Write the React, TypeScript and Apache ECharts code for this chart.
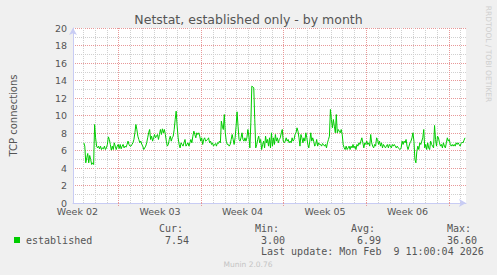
import React, { useEffect, useRef } from "react";
import * as echarts from "echarts";

const TITLE = "Netstat, established only - by month";
const Y_NAME = "TCP connections";
const SIDE_TEXT = "RRDTOOL / TOBI OETIKER";
const FOOTER = "Munin 2.0.76";

// time axis in days since Mon 5 Jan 2026 (start of Week 02)
const X_MIN = 3.125;
const X_MAX = 36.4583;
const WEEK_LABELS = ["Week 02", "Week 03", "Week 04", "Week 05", "Week 06"];
const WEEK_LABEL_DAYS = [3.5, 10.5, 17.5, 24.5, 31.5];
const WEEK_START_DAYS = [7, 14, 21, 28, 35];
const DAY_LINES = [4, 5, 6, 8, 9, 10, 11, 12, 13, 15, 16, 17, 18, 19, 20, 22, 23, 24, 25, 26, 27, 29, 30, 31, 32, 33, 34, 36];

const Y_MIN = 0;
const Y_MAX = 20;
const Y_STEP = 2;

// samples every 2 hours
const SAMPLE_STEP_DAYS = 2 / 24;

const CHUNK_A_START = 4.0417;
const CHUNK_A = [
  6.88, 6.5, 4.59, 5.16, 5.66, 4.59, 5.43, 4.97, 4.4, 4.59,
  4.4, 8.97, 7.45, 6.5, 6.3, 6.5, 6.19, 6.5, 6.11, 6.3,
  6.19, 6.5, 6.11, 6.3, 6.69, 7.56, 7.26, 6.69, 6.04, 6.5,
  6.11, 6.88, 6.5, 6.11, 6.5, 6.69, 6.23, 6.69, 6.19, 6.5,
  6.69, 6.3, 6.5, 6.38, 6.69, 7.07, 6.69, 6.5, 6.5, 6.69,
  6.88, 7.26, 8.02, 8.97, 8.4, 7.64, 7.26, 6.88, 7.07, 6.69,
  6.5, 6.11, 6.3, 6.5, 6.88, 7.45, 8.02, 8.4, 7.26, 7.64,
  7.07, 7.45, 7.83, 7.45, 7.64, 7.83, 7.26, 7.83, 8.4, 7.83,
  8.48, 8.02, 8.4, 7.83, 7.07, 6.5, 6.69, 7.26, 7.64, 7.07,
  7.45, 7.64, 8.4, 9.54, 10.5, 8.78, 7.45, 6.69, 6.3, 6.88,
  6.69, 6.5, 6.88, 7.26, 6.5, 6.69, 6.88, 6.5, 6.88, 7.26,
  6.88, 7.64, 8.21, 7.83, 7.45, 8.02, 7.83, 8.02, 7.64, 7.07,
  7.45, 6.69, 7.26, 7.45, 7.07,
];

const CHUNK_B_START = 14.5417;
const CHUNK_B = [
  7.26, 7.45, 6.88, 7.07, 6.69, 6.88, 6.5, 6.69, 6.8, 6.5,
  6.88, 6.8, 7.07, 6.88, 9.35, 8.78, 8.4, 10.11, 8.02, 7.07,
  6.69, 6.69, 6.5, 6.69, 7.26, 7.83, 7.26, 6.69, 7.45, 8.78,
  10.42, 8.78, 7.26, 7.07, 7.45, 8.02, 7.26, 7.07, 7.45, 7.07,
  7.45, 8.4, 7.64, 6.3, 9.16, 13.35, 13.28, 13.16, 9.54, 6.3,
  6.69, 7.26, 7.64, 6.88, 7.26, 6.11, 6.69, 7.07, 6.3, 7.64,
  6.88, 7.26, 6.5, 7.45, 6.3, 8.02, 6.5, 7.45, 6.69, 7.83,
  7.07, 7.45, 6.88, 7.26, 7.45, 8.02, 8.4, 7.07, 6.88, 7.07,
  7.45, 7.07, 7.26, 6.88, 7.07, 6.88, 7.45, 7.07, 7.26, 7.83,
  8.02, 8.59, 8.21, 7.45, 6.5, 7.83, 7.45, 6.88, 7.45, 7.07,
  8.02, 7.45, 6.69, 6.3, 7.07, 8.02, 7.07, 7.45, 7.07, 6.5,
  6.69, 7.26, 6.5, 6.88, 6.69, 6.69, 6.5, 6.8, 6.69, 6.5,
  6.69, 6.3, 6.88, 7.26, 7.64, 10.69, 9.54, 8.59, 9.54, 8.78,
  8.02,
];

const CHUNK_C_START = 25.4583;
const CHUNK_C = [
  10.11, 8.02, 8.4, 8.21, 8.02, 8.4, 7.83, 6.69, 6.3, 6.11,
  6.5, 6.11, 6.3, 6.5, 6.11, 6.5, 6.3, 6.69, 6.3, 6.5,
  6.11, 6.69, 6.5, 6.88, 6.69, 7.07, 7.45, 6.88, 6.3, 6.88,
  6.69, 7.07, 6.69, 6.88, 6.5, 7.83, 6.88, 6.5, 6.3, 6.69,
  6.5, 7.45, 7.26, 6.69, 7.07, 6.5, 6.88, 6.3, 6.69, 6.5,
  6.3, 6.5, 6.69, 6.3, 6.69, 6.5, 6.3, 6.69, 6.5, 6.69,
  6.5, 6.3, 6.5, 6.3, 6.19, 6.11, 6.3, 7.07, 6.69, 7.07,
  6.88, 7.26, 6.5, 6.11, 6.5, 6.88, 7.07, 7.45, 8.02, 7.07,
  4.97, 4.59, 5.92, 6.5, 6.11, 6.88, 6.69, 7.07, 7.45, 8.4,
  6.3, 6.69, 6.11, 6.88, 6.3, 6.11, 7.07, 6.69, 6.5, 6.3,
  8.86, 7.26, 6.5, 7.64, 7.45, 6.88, 6.5, 6.69, 6.3, 6.88,
  6.5, 6.3, 6.88, 7.45, 7.07, 7.26, 6.69, 6.5, 6.69, 6.5,
  6.69, 6.5, 6.88, 6.69, 6.88, 6.69, 6.5, 6.8, 6.95, 6.88,
  7.18, 7.45,
];

const SERIES_NAME = "established";
const STAT_HEADERS = ["Cur:", "Min:", "Avg:", "Max:"];
const STAT_VALUES = ["7.54", "3.00", "6.99", "36.60"];
const LAST_UPDATE = "Last update: Mon Feb  9 11:00:04 2026";

const GREEN = "#00cc00";
const TEXT = "#555555";
const MAJOR = "#e89898";
const MINOR = "#d0d0d0";
const AXIS = "#c8ccf4";
const SANS = "'DejaVu Sans', sans-serif";
const MONO = "'DejaVu Sans Mono', monospace";

function chunk(start: number, vals: number[]) {
  return vals.map((v, i) => [start + i * SAMPLE_STEP_DAYS, v]);
}

export default function App() {
  const ref = useRef<HTMLDivElement>(null);
  useEffect(() => {
    if (!ref.current) return;
    const chart = echarts.init(ref.current, undefined, { renderer: "svg" });
    const data = [
      ...chunk(CHUNK_A_START, CHUNK_A),
      ...chunk(CHUNK_B_START, CHUNK_B),
      ...chunk(CHUNK_C_START, CHUNK_C),
    ];
    const statX = [159, 255, 351, 447];
    const valX = [165, 261, 357, 447];
    const graphics: any[] = [
      {
        type: "text", x: 248.5, y: 19,
        style: { text: TITLE, fill: TEXT, fontSize: 12.5, fontFamily: SANS, align: "center", verticalAlign: "middle" },
      },
      {
        type: "text", x: 488.5, y: 54, rotation: -Math.PI / 2,
        style: { text: SIDE_TEXT, fill: "#cfcfcf", fontSize: 7.5, fontFamily: SANS, align: "center", verticalAlign: "middle" },
      },
      { type: "rect", shape: { x: 14, y: 237, width: 6, height: 6 }, style: { fill: GREEN } },
      {
        type: "text", x: 26, y: 240,
        style: { text: SERIES_NAME, fill: TEXT, fontSize: 10, fontFamily: MONO, align: "left", verticalAlign: "middle" },
      },
      {
        type: "text", x: 261, y: 251.5,
        style: { text: LAST_UPDATE, fill: TEXT, fontSize: 10, fontFamily: MONO, align: "left", verticalAlign: "middle" },
      },
      {
        type: "text", x: 248, y: 264.5,
        style: { text: FOOTER, fill: "#c4c4c4", fontSize: 7.5, fontFamily: SANS, align: "center", verticalAlign: "middle" },
      },
    ];
    STAT_HEADERS.forEach((h, i) => {
      graphics.push({
        type: "text", x: statX[i], y: 228,
        style: { text: h, fill: TEXT, fontSize: 10, fontFamily: MONO, align: "left", verticalAlign: "middle" },
      });
      graphics.push({
        type: "text", x: valX[i], y: 240,
        style: { text: STAT_VALUES[i], fill: TEXT, fontSize: 10, fontFamily: MONO, align: "left", verticalAlign: "middle" },
      });
    });

    chart.setOption({
      animation: false,
      backgroundColor: "#f0f0f0",
      grid: {
        left: 66, right: 31, top: 28, bottom: 72,
        show: true, backgroundColor: "#ffffff", borderWidth: 0,
      },
      xAxis: [
        {
          type: "value", min: X_MIN, max: X_MAX, position: "top",
          axisLine: { show: false },
          axisTick: { show: true, customValues: DAY_LINES, length: 0, lineStyle: { color: "rgba(0,0,0,0)" } },
          axisLabel: { show: false },
          splitLine: { show: true, lineStyle: { color: MINOR, type: [1, 1], width: 1 } },
        },
        {
          type: "value", min: X_MIN, max: X_MAX, position: "bottom",
          axisLine: {
            show: true, onZero: false, symbol: ["none", "arrow"], symbolSize: [6, 7],
            lineStyle: { color: AXIS, width: 1 },
          },
          axisTick: {
            show: true, customValues: WEEK_START_DAYS, length: 3, inside: false,
            lineStyle: { color: MAJOR, type: [1, 1] },
          },
          splitLine: { show: true, lineStyle: { color: MAJOR, type: [1, 1], width: 1 } },
          axisLabel: {
            show: true, customValues: WEEK_LABEL_DAYS, margin: 3, color: TEXT,
            fontSize: 9.5, fontFamily: SANS,
            formatter: (v: number) => {
              const i = WEEK_LABEL_DAYS.findIndex((d) => Math.abs(d - v) < 0.01);
              return i >= 0 ? WEEK_LABELS[i] : "";
            },
          },
        },
      ],
      yAxis: {
        type: "value", min: Y_MIN, max: Y_MAX, interval: Y_STEP,
        name: Y_NAME, nameLocation: "middle", nameGap: 55,
        nameTextStyle: { color: TEXT, fontSize: 10, fontFamily: SANS },
        axisLine: {
          show: true, onZero: false, symbol: ["none", "arrow"], symbolSize: [6, 7],
          lineStyle: { color: AXIS, width: 1 },
        },
        axisTick: { show: false },
        axisLabel: { color: TEXT, fontSize: 9.5, fontFamily: SANS, margin: 6 },
        splitLine: { show: true, lineStyle: { color: MAJOR, type: [1, 1], width: 1 } },
        minorTick: { show: false, splitNumber: 2 },
        minorSplitLine: { show: true, lineStyle: { color: MINOR, type: [1, 1], width: 1 } },
      },
      series: [
        {
          name: SERIES_NAME, type: "line", xAxisIndex: 1, data, showSymbol: false, symbol: "none",
          lineStyle: { color: GREEN, width: 1 }, z: 5, silent: true,
        },
      ],
      graphic: graphics,
    });
    return () => chart.dispose();
  }, []);
  return (
    <div
      ref={ref}
      style={{ position: "fixed", left: 0, top: 0, width: 497, height: 275 }}
    />
  );
}
